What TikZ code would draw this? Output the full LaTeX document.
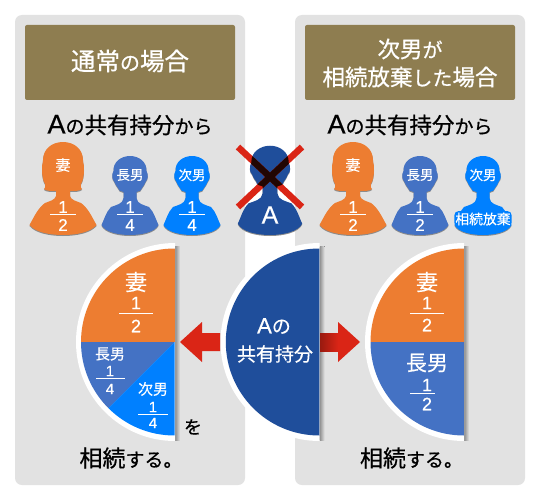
\documentclass[tikz,border=0pt]{standalone}
\usepackage{fontspec}
\usepackage{xcolor}
\usepackage{tikz}
\setmainfont{Noto Sans CJK JP}
\newfontfamily\jpmed[FakeBold=0.7]{Noto Sans CJK JP}
\newfontfamily\jpsemi[FakeBold=0.3]{Noto Sans CJK JP}
\newfontfamily\latinfont[FakeBold=0.5]{Liberation Sans}
\definecolor{panelgray}{RGB}{226,226,226}
\definecolor{headbrown}{RGB}{142,125,80}
\definecolor{wifeorange}{RGB}{237,125,49}
\definecolor{sonblue}{RGB}{68,114,196}
\definecolor{sonbright}{RGB}{0,128,255}
\definecolor{deadnavy}{RGB}{31,78,155}
\definecolor{arrowred}{RGB}{218,37,22}
\newcommand{\malepath}{(-28.5,-10) .. controls (-25,-3) and (-12,0) .. (0,0) .. controls (12,0) and (25,-3) .. (28.5,-10) .. controls (26,-15) and (24,-23) .. (19,-28) .. controls (14,-30) and (7,-31) .. (6.5,-37) -- (6.5,-43) .. controls (9,-43) and (12,-45) .. (12,-47) .. controls (14,-49) and (15,-52) .. (16,-54) .. controls (18,-55) and (18.5,-61) .. (16.5,-64) .. controls (17,-73) and (9,-79) .. (0,-79) .. controls (-9,-79) and (-17,-73) .. (-16.5,-64) .. controls (-18.5,-61) and (-18,-55) .. (-16,-54) .. controls (-15,-52) and (-14,-49) .. (-12,-47) .. controls (-12,-45) and (-9,-43) .. (-6.5,-43) -- (-6.5,-37) .. controls (-7,-31) and (-14,-30) .. (-19,-28) .. controls (-24,-23) and (-26,-15) .. (-28.5,-10) -- cycle}
\newcommand{\femalepath}{(-33.5,-10) .. controls (-28,-3) and (-14,0) .. (0,0) .. controls (14,0) and (28,-3) .. (33.5,-10) .. controls (29,-18) and (25,-27) .. (18,-32) .. controls (13,-34) and (8,-35) .. (7,-39) -- (7,-44) .. controls (12,-44) and (17,-44) .. (19,-46) .. controls (18,-47) and (17,-48) .. (18,-51) .. controls (20,-54) and (21,-60) .. (21,-65) .. controls (22,-68) and (20,-71) .. (20,-75) .. controls (20,-86) and (11,-93) .. (0,-93) .. controls (-11,-93) and (-20,-86) .. (-20,-75) .. controls (-20,-71) and (-22,-68) .. (-21,-65) .. controls (-21,-60) and (-20,-54) .. (-18,-51) .. controls (-17,-48) and (-18,-47) .. (-19,-46) .. controls (-17,-44) and (-12,-44) .. (-7,-44) -- (-7,-39) .. controls (-8,-35) and (-13,-34) .. (-18,-32) .. controls (-25,-27) and (-29,-18) .. (-33.5,-10) -- cycle}
\newcommand{\halfdisc}[3]{\begin{scope}\clip (#1-120,200) rectangle (#1,480); \fill[#3] (#1,342) circle (#2);\end{scope}}
\newcommand{\edgeshadow}[1]{\fill[left color=black!45, right color=panelgray] (#1,246) rectangle (#1+5,440);}
\begin{document}
\begin{tikzpicture}[
  x=1pt, y=-1pt,
  panel/.style={fill=panelgray, rounded corners=7pt},
  headbox/.style={fill=headbrown, rounded corners=2pt},
  headtext/.style={text=white, font=\jpmed\fontsize{24.5}{25}\selectfont, inner sep=0pt},
  title/.style={font=\jpmed\fontsize{22.5}{24}\selectfont, inner sep=0pt},
  kin/.style={text=white, inner sep=0pt, font=\jpsemi\fontsize{13.5}{14}\selectfont},
  bigkin/.style={text=white, inner sep=0pt, font=\jpsemi\fontsize{22}{24}\selectfont},
  digit/.style={text=white, inner sep=0pt, font=\latinfont\fontsize{17}{17}\selectfont},
  bigdigit/.style={text=white, inner sep=0pt, font=\latinfont\fontsize{18}{18}\selectfont},
  smalldigit/.style={text=white, inner sep=0pt, font=\latinfont\fontsize{15}{15}\selectfont},
  bar/.style={draw=white, line width=0.9pt},
  cross/.style={line width=6.5pt},
]
  \useasboundingbox (0,0) rectangle (540,500);
  \fill[white] (0,0) rectangle (540,500);

  % panels and headers
  \fill[panel] (15,15) rectangle (245,485);
  \fill[panel] (295,15) rectangle (525,485);
  \fill[headbox] (25,25) rectangle (235,100);
  \fill[headbox] (305,25) rectangle (515,100);
  \node[headtext] (headleft) at (130,61) {通常{\fontsize{20}{20}\selectfont の}場合};
  \node[headtext, font=\jpmed\fontsize{22.5}{24}\selectfont] (headright) at (410,49) {次男{\fontsize{20}{20}\selectfont が}};
  \node[headtext, font=\jpmed\fontsize{22.5}{24}\selectfont] (headright2) at (410,77) {相続放棄{\fontsize{20}{20}\selectfont した}場合};
  \node[title] (titleleft) at (130,125) {{\latinfont\fontsize{27}{27}\selectfont A}{\fontsize{19}{20}\selectfont の}共有持分{\fontsize{19}{20}\selectfont から}};
  \node[title] (titleright) at (410,125) {{\latinfont\fontsize{27}{27}\selectfont A}{\fontsize{19}{20}\selectfont の}共有持分{\fontsize{19}{20}\selectfont から}};

  % people
  \foreach \px/\pcol/\pshape in {63/wifeorange/\femalepath, 130/sonblue/\malepath, 192/sonbright/\malepath, 353/wifeorange/\femalepath, 420/sonblue/\malepath, 483/sonbright/\malepath} {
    \fill[shift={(\px,236)}, black!45] \pshape;
    \fill[shift={(\px,235)}, \pcol] \pshape;
  }
  \fill[shift={(270,236)}, scale=1.13, black!45] \malepath;
  \fill[shift={(270,235)}, scale=1.13, deadnavy] \malepath;
  \draw[cross, arrowred] (238,147) -- (302,207) (238,207) -- (302,147);
  \begin{scope}
    \clip[shift={(270,235)}, scale=1.13] \malepath;
    \draw[cross, black!85!arrowred] (238,147) -- (302,207) (238,207) -- (302,147);
  \end{scope}
  \node[text=white, inner sep=0pt, font=\latinfont\fontsize{25}{25}\selectfont] (labelA) at (270,215) {A};

  \node[kin, font=\jpsemi\fontsize{15}{16}\selectfont] (wifeL) at (63,165) {妻};
  \node[kin] (sonL) at (130,175) {長男};
  \node[kin] (secondL) at (192,175) {次男};
  \node[kin, font=\jpsemi\fontsize{15}{16}\selectfont] (wifeR) at (353,165) {妻};
  \node[kin] (sonR) at (420,175) {長男};
  \node[kin] (secondR) at (483,175) {次男};
  \node[kin, fill=sonbright, rounded corners=4pt, inner xsep=1pt, inner ysep=1.5pt, font=\jpsemi\fontsize{13.8}{14}\selectfont] (renounce) at (483,219) {相続放棄};

  % fractions on the people
  \foreach \fx/\fd [count=\fn] in {63/2, 130/4, 192/4, 353/2, 420/2} {
    \node[digit] (up\fn) at (\fx,207) {1};
    \node[digit] (down\fn) at (\fx,225) {\fd};
    \draw[bar] (\fx-13,214) -- (\fx+13,214);
  }

  % half discs
  \edgeshadow{175}
  \edgeshadow{319.5}
  \edgeshadow{464}
  \halfdisc{175}{99}{white}
  \halfdisc{319.5}{99}{white}
  \halfdisc{464}{99}{white}

  % left disc
  \begin{scope}
    \clip (174.5,342) circle (93.5);
    \fill[wifeorange] (70,240) rectangle (174.5,342);
    \fill[sonblue] (174.5,342) -- (70,342) -- (70,446.5) -- cycle;
    \fill[sonbright] (174.5,342) -- (70,446.5) -- (174.5,446.5) -- cycle;
  \end{scope}
  \node[bigkin] (wifeP) at (136,282) {妻};
  \node[bigdigit] (wifePu) at (136,303) {1};
  \draw[bar] (119,313.7) -- (153,313.7);
  \node[bigdigit] (wifePd) at (136,326) {2};
  \node[kin, font=\jpsemi\fontsize{15}{16}\selectfont] (sonP) at (110,354) {長男};
  \node[smalldigit] (sonPu) at (110,371) {1};
  \draw[bar] (96,378.7) -- (125,378.7);
  \node[smalldigit] (sonPd) at (110,389) {4};
  \node[kin, font=\jpsemi\fontsize{15}{16}\selectfont] (secondP) at (153,389) {次男};
  \node[smalldigit] (secondPu) at (153,407) {1};
  \draw[bar] (138,414) -- (168,414);
  \node[smalldigit] (secondPd) at (153,423) {4};

  % middle disc
  \halfdisc{319.3}{93.5}{deadnavy}
  \node[kin, font=\jpsemi\fontsize{19}{20}\selectfont] (shareA) at (274,326) {{\latinfont\fontsize{22}{22}\selectfont A}の};
  \node[kin, font=\jpsemi\fontsize{19}{20}\selectfont] (shareB) at (275,354) {共有持分};

  % right disc
  \begin{scope}
    \clip (464,342) circle (93.5);
    \fill[wifeorange] (360,240) rectangle (464,342);
    \fill[sonblue] (360,342) rectangle (464,446);
  \end{scope}
  \node[bigkin] (wifeQ) at (427,282) {妻};
  \node[bigdigit] (wifeQu) at (427,303) {1};
  \draw[bar] (410,313.7) -- (444,313.7);
  \node[bigdigit] (wifeQd) at (427,325) {2};
  \node[bigkin, font=\jpsemi\fontsize{21}{22}\selectfont] (sonQ) at (427,363) {長男};
  \node[bigdigit] (sonQu) at (427,385) {1};
  \draw[bar] (410,393.7) -- (435,393.7);
  \node[bigdigit] (sonQd) at (427,404) {2};

  % arrows
  \fill[arrowred] (180,342) -- (202,322) -- (202,333) -- (220,333) -- (220,351) -- (202,351) -- (202,362) -- cycle;
  \fill[left color=arrowred!70!black, right color=arrowred] (320,333) rectangle (338,351);
  \fill[arrowred] (360,342) -- (338,322) -- (338,362) -- cycle;

  % bottom text
  \node[inner sep=0pt, font=\jpmed\fontsize{18}{18}\selectfont] (wo) at (193,427) {を};
  \node[inner sep=0pt, font=\jpmed\fontsize{23}{24}\selectfont] (inheritL) at (131,458) {相続{\fontsize{19}{19}\selectfont する。}};
  \node[inner sep=0pt, font=\jpmed\fontsize{23}{24}\selectfont] (inheritR) at (411.5,458) {相続{\fontsize{19}{19}\selectfont する。}};
\end{tikzpicture}
\end{document}
